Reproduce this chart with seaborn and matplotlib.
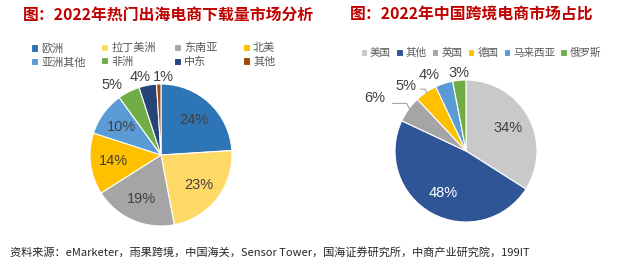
import numpy as np
import matplotlib
matplotlib.use("Agg")
import matplotlib.pyplot as plt
import seaborn as sns

# ---------------- data ----------------
left_title = "图：2022年热门出海电商下载量市场分析"
left_labels = ["欧洲", "拉丁美洲", "东南亚", "北美", "亚洲其他", "非洲", "中东", "其他"]
left_values = [24, 23, 19, 14, 10, 5, 4, 1]
left_colors = ["#2E75B6", "#FFD966", "#A5A5A5", "#FFC000", "#5B9BD5", "#70AD47", "#264478", "#9E480E"]

right_title = "图：2022年中国跨境电商市场占比"
right_labels = ["美国", "其他", "英国", "德国", "马来西亚", "俄罗斯"]
right_values = [34, 48, 6, 5, 4, 3]
right_colors = ["#C9C9C9", "#2F5597", "#A5A5A5", "#FFC000", "#5B9BD5", "#70AD47"]

source_text = "资料来源：eMarketer，雨果跨境，中国海关，Sensor Tower，国海证券研究所，中商产业研究院，199IT"

# ---------------- style ----------------
sns.set_theme(style="white")
FONTS = ["Noto Sans CJK SC", "DejaVu Sans"]
NUMFONT = ["Liberation Sans", "DejaVu Sans"]
plt.rcParams["font.family"] = FONTS

W, H = 640, 268
fig = plt.figure(figsize=(W / 100, H / 100), dpi=100)
fig.patch.set_facecolor("white")
LBL = "#404040"


def pie_axes(cx, cy, r):
    return fig.add_axes([(cx - r) / W, (H - cy - r) / H, 2 * r / W, 2 * r / H])


def finish(ax):
    ax.set_xlim(-1, 1)
    ax.set_ylim(-1, 1)
    ax.set_aspect("equal")
    ax.axis("off")


def mid(w):
    return np.deg2rad((w.theta1 + w.theta2) / 2)


def put(ax, x, y, text, color=LBL):
    ax.text(x, y, text, ha="center", va="center", fontsize=10.5, color=color,
            clip_on=False, family=NUMFONT)


def label_at(ax, w, text, rf, color=LBL, dx=0.0, dy=0.0):
    a = mid(w)
    put(ax, rf * np.cos(a) + dx, rf * np.sin(a) + dy, text, color)


# ---------- left pie ----------
axL = pie_axes(161, 155, 71)
wL, _ = axL.pie(left_values, colors=left_colors, startangle=90, counterclock=False,
                radius=1, wedgeprops=dict(edgecolor="white", linewidth=0.8))
finish(axL)
for w, v in zip(wL, left_values):
    txt = f"{v}%"
    if v >= 10:
        label_at(axL, w, txt, 0.68)
    elif v == 5:
        label_at(axL, w, txt, 1.2, dx=-0.145, dy=-0.08)
    elif v == 4:
        label_at(axL, w, txt, 1.12, dx=-0.09)
    else:
        label_at(axL, w, txt, 1.1, dx=0.07)

fig.text(169 / W, 1 - 15 / H, left_title, ha="center", va="center", fontsize=11.4,
         fontweight="bold", color="#C00000", family=FONTS)

# legend: Excel-like fixed-width grid, 4 columns x 2 rows
col_x = [31, 101, 174, 243]
for c in range(4):
    idx = [c, c + 4]
    lg = fig.legend([wL[i] for i in idx], [left_labels[i] for i in idx], loc="upper left",
                    bbox_to_anchor=(col_x[c] / W, 1 - 43 / H), frameon=False,
                    handlelength=0.6, handleheight=0.6, handletextpad=0.3,
                    labelspacing=0.3, borderpad=0.0, borderaxespad=0.0,
                    prop=dict(family=FONTS, size=8))
    for t in lg.get_texts():
        t.set_color("#595959")

# ---------- right pie ----------
axR = pie_axes(466, 151, 71)
wR, _ = axR.pie(right_values, colors=right_colors, startangle=90, counterclock=False,
                radius=1, wedgeprops=dict(edgecolor="white", linewidth=0.8))
finish(axR)
for w, v in zip(wR, right_values):
    txt = f"{v}%"
    a = mid(w)
    if v == 48:
        label_at(axR, w, txt, 0.67, color="white")
    elif v == 34:
        label_at(axR, w, txt, 0.67)
    elif v == 6:
        x0, y0 = 0.97 * np.cos(a), 0.97 * np.sin(a)
        axR.plot([x0, x0 - 0.05, x0 - 0.26], [y0, y0 + 0.1, y0 + 0.1], color="#A6A6A6",
                 lw=0.8, clip_on=False, solid_capstyle="butt")
        put(axR, x0 - 0.5, y0 + 0.17, txt)
    elif v == 5:
        x0, y0 = 0.98 * np.cos(a), 0.98 * np.sin(a)
        axR.plot([x0, x0 - 0.02, x0 - 0.1], [y0, y0 + 0.06, y0 + 0.06], color="#A6A6A6",
                 lw=0.8, clip_on=False, solid_capstyle="butt")
        put(axR, x0 - 0.29, y0 + 0.1, txt)
    elif v == 4:
        label_at(axR, w, txt, 1.12, dx=-0.17)
    else:
        label_at(axR, w, txt, 1.11, dx=0.0)

fig.text(472 / W, 1 - 15 / H, right_title, ha="center", va="center", fontsize=11.4,
         fontweight="bold", color="#C00000", family=FONTS)
legR = fig.legend(wR, right_labels, ncol=6, loc="center", bbox_to_anchor=(481 / W, 1 - 53 / H),
                  frameon=False, handlelength=0.6, handleheight=0.6,
                  handletextpad=0.3, columnspacing=0.5, prop=dict(family=FONTS, size=7.6))
for t in legR.get_texts():
    t.set_color("#595959")

# ---------- footnote ----------
fig.text(10 / W, 1 - 252 / H, source_text, ha="left", va="center", fontsize=8,
         style="italic", color="#262626", family=FONTS)

fig.savefig("out.png", dpi=100, facecolor="white")
